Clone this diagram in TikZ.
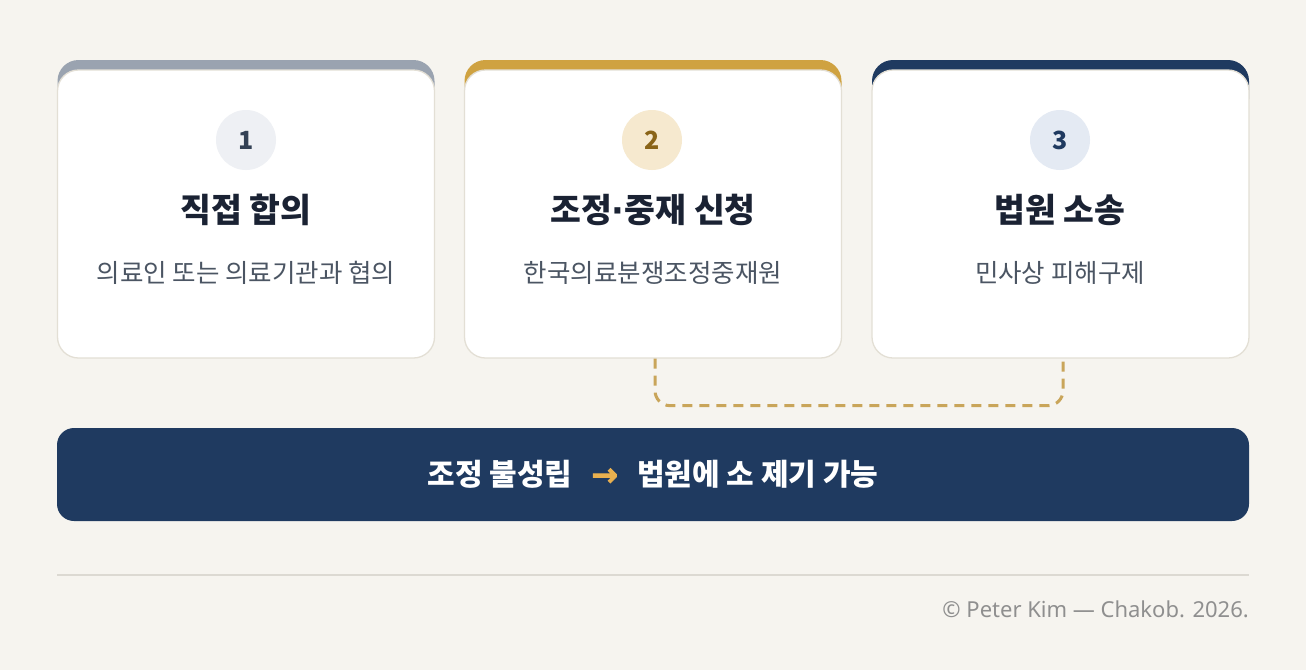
\documentclass[tikz,border=0pt]{standalone}
\usepackage{fontspec}
\setmainfont{Noto Sans CJK KR}
\newfontfamily\footfont{Noto Sans}
\newfontfamily\dotfont{DejaVu Sans}
\newfontfamily\arrowfont{DejaVu Sans}[FakeBold=2.5]
\usetikzlibrary{positioning}
\definecolor{bg}{HTML}{F6F4EF}
\definecolor{cardborder}{HTML}{E3DFD5}
\definecolor{bandA}{HTML}{9AA3B0}
\definecolor{bandB}{HTML}{CFA241}
\definecolor{bandC}{HTML}{1F3A60}
\definecolor{circA}{HTML}{EEF0F4}
\definecolor{circB}{HTML}{F6E9CF}
\definecolor{circC}{HTML}{E4EAF3}
\definecolor{numA}{HTML}{334155}
\definecolor{numB}{HTML}{8A6418}
\definecolor{numC}{HTML}{1F3A60}
\definecolor{titlec}{HTML}{1A2233}
\definecolor{subc}{HTML}{4B5563}
\definecolor{dashc}{HTML}{C9A55A}
\definecolor{barc}{HTML}{1F3A60}
\definecolor{arrowc}{HTML}{E9B04F}
\definecolor{divc}{HTML}{DCD9D2}
\definecolor{footc}{HTML}{8F8F8F}
\tikzset{
  band/.style={fill=#1, rounded corners=21pt, minimum width=377pt, minimum height=60pt, inner sep=0pt, draw=none},
  card/.style={fill=white, draw=cardborder, line width=1.3pt, rounded corners=21pt, minimum width=377pt, minimum height=288pt, inner sep=0pt},
  numcirc/.style={circle, fill=#1, minimum size=60pt, inner sep=0pt, font=\fontsize{25}{28}\selectfont\bfseries},
  titletext/.style={font=\fontsize{33.5}{40}\selectfont\bfseries, text=titlec, inner sep=0pt},
  subtext/.style={font=\fontsize{25.5}{30}\selectfont, text=subc, inner sep=0pt},
  dashline/.style={draw=dashc, line width=3pt, dash pattern=on 10pt off 7pt, rounded corners=15pt},
  bar/.style={fill=barc, rounded corners=17pt, minimum width=1192pt, minimum height=93pt, inner sep=0pt},
  bartext/.style={font=\fontsize{30}{36}\selectfont\bfseries, text=white, inner sep=0pt},
  foot/.style={font=\footfont\fontsize{22}{26}\selectfont, text=footc, inner sep=0pt}
}
\begin{document}
\begin{tikzpicture}[x=1pt,y=-1pt]
\fill[bg] (0,0) rectangle (1306,670);
\useasboundingbox (0,0) rectangle (1306,670);
% bands
\node[band=bandA] (b1) at (246,90) {};
\node[band=bandB] (b2) at (653,90) {};
\node[band=bandC] (b3) at (1060.5,90) {};
% cards
\node[card] (c1) at (246,214) {};
\node[card] (c2) at (653,214) {};
\node[card] (c3) at (1060.5,214) {};
% number circles
\node[numcirc=circA, text=numA] (n1) at (246,140) {1};
\node[numcirc=circB, text=numB] (n2) at (652,140) {2};
\node[numcirc=circC, text=numC] (n3) at (1060,140) {3};
% titles
\node[titletext] (t1) at (246,210) {직접 합의};
\node[titletext] (t2) at (653,210) {조정{\dotfont\bfseries ·}중재 신청};
\node[titletext] (t3) at (1060,210) {법원 소송};
% subtitles
\node[subtext] (s1) at (246,273) {의료인 또는 의료기관과 협의};
\node[subtext] (s2) at (653,273) {한국의료분쟁조정중재원};
\node[subtext] (s3) at (1060,273) {민사상 피해구제};
% dashed connector
\draw[dashline] ([xshift=2pt]c2.south) -- ++(0,47) -| ([xshift=2.5pt]c3.south);
% bottom bar
\node[bar] (bar) at (653,474.5) {};
\node[bartext] (bt) at (bar.center) {조정 불성립\hspace{19pt}{\arrowfont\fontsize{32}{36}\selectfont\color{arrowc}→}\hspace{19pt}법원에 소 제기 가능};
% divider
\coordinate (dl) at (57,575);
\coordinate (dr) at (1249,575);
\draw[divc, line width=1.5pt] (dl) -- (dr);
% footer
\node[foot, anchor=east] (ft) at (1249,609) {© Peter Kim — Chakob. 2026.};
\end{tikzpicture}
\end{document}
